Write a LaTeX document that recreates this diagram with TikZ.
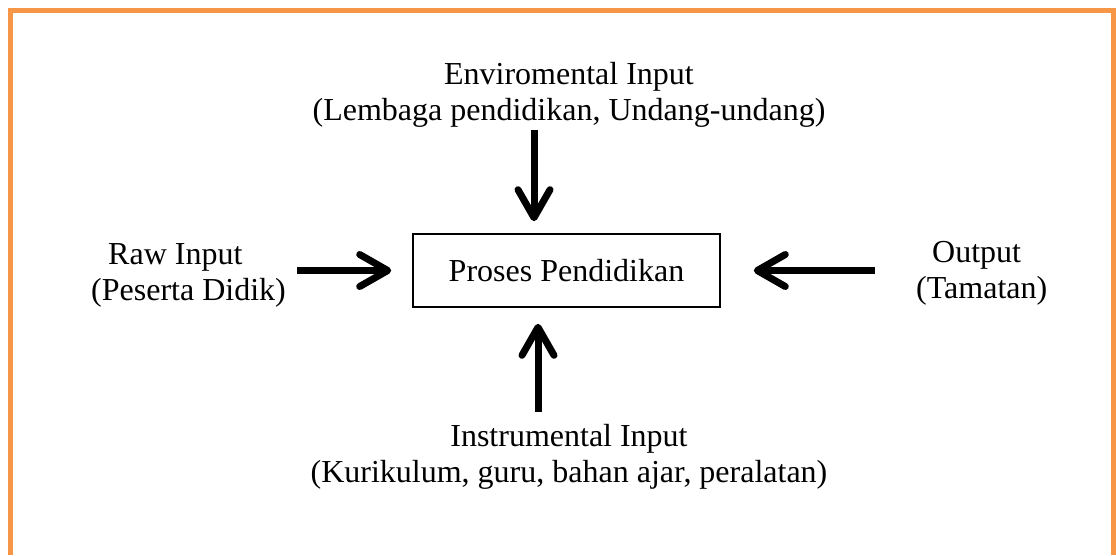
\documentclass[tikz,border=0pt]{standalone}
\usepackage{fontspec}
\setmainfont{Liberation Serif}
\usetikzlibrary{arrows.meta}
\definecolor{frameorange}{HTML}{F79646}

\begin{document}
\begin{tikzpicture}[x=1pt,y=-1pt,
  font=\fontsize{32}{36}\selectfont,
  txt/.style={inner sep=3pt},
  proses/.style={draw,line width=1.6pt,minimum width=307pt,minimum height=73pt,inner sep=0pt},
  arr/.style={line width=7pt,-{Straight Barb[round,length=28pt,width=32pt]}}]
  \useasboundingbox (0,0) rectangle (1116,555);
 % \draw[help lines] (0,0) grid (1116,555);
  \draw[frameorange,line width=5pt] (10.5,555) -- (10.5,10.5) -- (1113.5,10.5) -- (1113.5,555);
  \node[proses] (proc) at (566.5,270.5) {Proses Pendidikan};
  \node[txt,align=center,anchor=base] (env) at (569,120)
        {Enviromental Input\\(Lembaga pendidikan, Undang-undang)};
  \node[txt,align=center,anchor=base] (instr) at (569,482)
        {Instrumental Input\\(Kurikulum, guru, bahan ajar, peralatan)};
  \node[txt,align=left,anchor=base west] (raw) at (88,300)
        {\hspace*{17pt}Raw Input\\(Peserta Didik)};
  \node[txt,align=left,anchor=base west] (out) at (913,298)
        {\hspace*{16pt}Output\\(Tamatan)};
  \draw[arr,shorten >=12pt] ([xshift=-35pt]env.south) -- ([xshift=-32.5pt]proc.north);
  \draw[arr,shorten <=9pt,shorten >=16pt] ([xshift=-31pt]instr.north) -- ([xshift=-28.5pt]proc.south);
  \draw[arr,shorten <=8pt,shorten >=21pt] (raw.east |- proc.west) -- (proc.west);
  \draw[arr,shorten <=38pt,shorten >=33pt] (out.west |- proc.east) -- (proc.east);
 \end{tikzpicture}
\end{document}
